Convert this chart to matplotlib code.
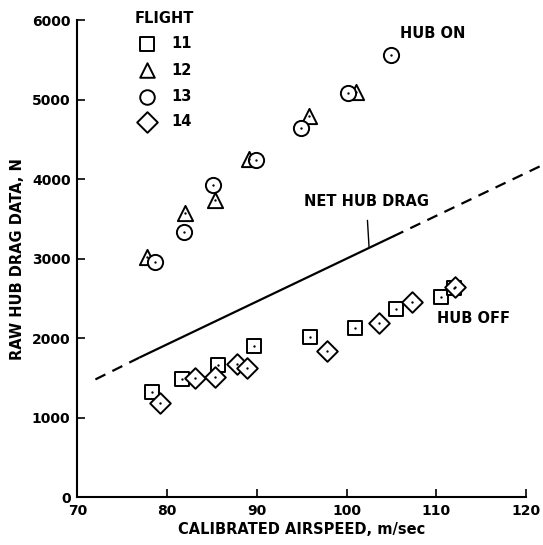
import matplotlib
matplotlib.use("Agg")
import matplotlib.pyplot as plt

plt.rcParams['font.family'] = ['DejaVu Sans']
plt.rcParams['font.weight'] = 'bold'
plt.rcParams['axes.labelweight'] = 'bold'

# Flight data (airspeed m/sec, raw hub drag N)
f11_x = [78.3, 81.6, 85.7, 89.7, 95.9, 100.9, 105.5, 110.5, 112.0]
f11_y = [1325, 1480, 1660, 1900, 2017, 2122, 2361, 2512, 2630]
f12_x = [77.8, 82.0, 85.3, 89.1, 95.8, 101.0]
f12_y = [3020, 3570, 3740, 4250, 4800, 5090]
f13_x = [78.6, 81.9, 85.1, 89.9, 94.9, 100.2, 104.9]
f13_y = [2960, 3340, 3920, 4240, 4640, 5080, 5560]
f14_x = [79.2, 83.1, 85.3, 87.8, 88.95, 97.8, 103.6, 107.3, 112.1]
f14_y = [1186, 1501, 1514, 1669, 1619, 1840, 2193, 2457, 2645]

# Net hub drag line: dashed-solid-dashed
net_dash1_x = [72.0, 77.0]
net_dash1_y = [1480, 1760]
net_solid_x = [77.0, 105.2]
net_solid_y = [1760, 3280]
net_dash2_x = [105.2, 121.9]
net_dash2_y = [3280, 4180]

xticks = [70, 80, 90, 100, 110, 120]
yticks = [0, 1000, 2000, 3000, 4000, 5000, 6000]

fig = plt.figure(figsize=(5.43, 5.45), dpi=100)
ax = fig.add_axes([0.1427, 0.088, 0.826, 0.875])
ax.set_xlim(70, 120)
ax.set_ylim(0, 6000)

mk = dict(facecolors='white', edgecolors='black', linewidths=1.4, zorder=3)
ax.scatter(f11_x, f11_y, marker='s', s=110, **mk)
ax.scatter(f12_x, f12_y, marker='^', s=120, **mk)
ax.scatter(f13_x, f13_y, marker='o', s=120, **mk)
ax.scatter(f14_x, f14_y, marker='D', s=110, **mk)
for xs, ys in [(f11_x, f11_y), (f12_x, f12_y), (f13_x, f13_y), (f14_x, f14_y)]:
    ax.scatter(xs, ys, marker='.', s=2, color='black', zorder=4)

ax.plot(net_solid_x, net_solid_y, color='black', lw=1.6, clip_on=False)
ax.plot(net_dash1_x, net_dash1_y, color='black', lw=1.6, ls=(0, (5, 3.5)), clip_on=False)
ax.plot(net_dash2_x, net_dash2_y, color='black', lw=1.6, ls=(0, (5, 3.5)), clip_on=False)

fs = 10.5
ax.annotate('NET HUB DRAG', xy=(102.5, 3150), xytext=(102.2, 3715),
            ha='center', va='center', fontsize=fs,
            arrowprops=dict(arrowstyle='-', color='black', lw=1.0, shrinkA=6, shrinkB=0))
ax.text(106.0, 5836, 'HUB ON', ha='left', va='center', fontsize=fs)
ax.text(110.1, 2248, 'HUB OFF', ha='left', va='center', fontsize=fs)

# Legend drawn manually
ax.text(76.4, 6020, 'FLIGHT', ha='left', va='center', fontsize=fs)
leg_labels = ['11', '12', '13', '14']
leg_markers = ['s', '^', 'o', 'D']
leg_y = [5706, 5371, 5035, 4720]
for lab, m, yy in zip(leg_labels, leg_markers, leg_y):
    ax.scatter([77.7], [yy], marker=m, s=110, facecolors='white', edgecolors='black',
               linewidths=1.4, clip_on=False, zorder=3)
    ax.text(80.5, yy, lab, ha='left', va='center', fontsize=fs)

for s in ['top', 'right']:
    ax.spines[s].set_visible(False)
ax.spines['left'].set_linewidth(1.5)
ax.spines['bottom'].set_linewidth(1.5)
ax.set_xticks(xticks)
ax.set_yticks(yticks)
ax.tick_params(direction='in', length=6, width=1.2, labelsize=10, pad=5)
ax.set_xlabel('CALIBRATED AIRSPEED, m/sec', fontsize=fs, labelpad=3)
ax.set_ylabel('RAW HUB DRAG DATA, N', fontsize=fs, labelpad=5)

fig.savefig('out.png', dpi=100)
